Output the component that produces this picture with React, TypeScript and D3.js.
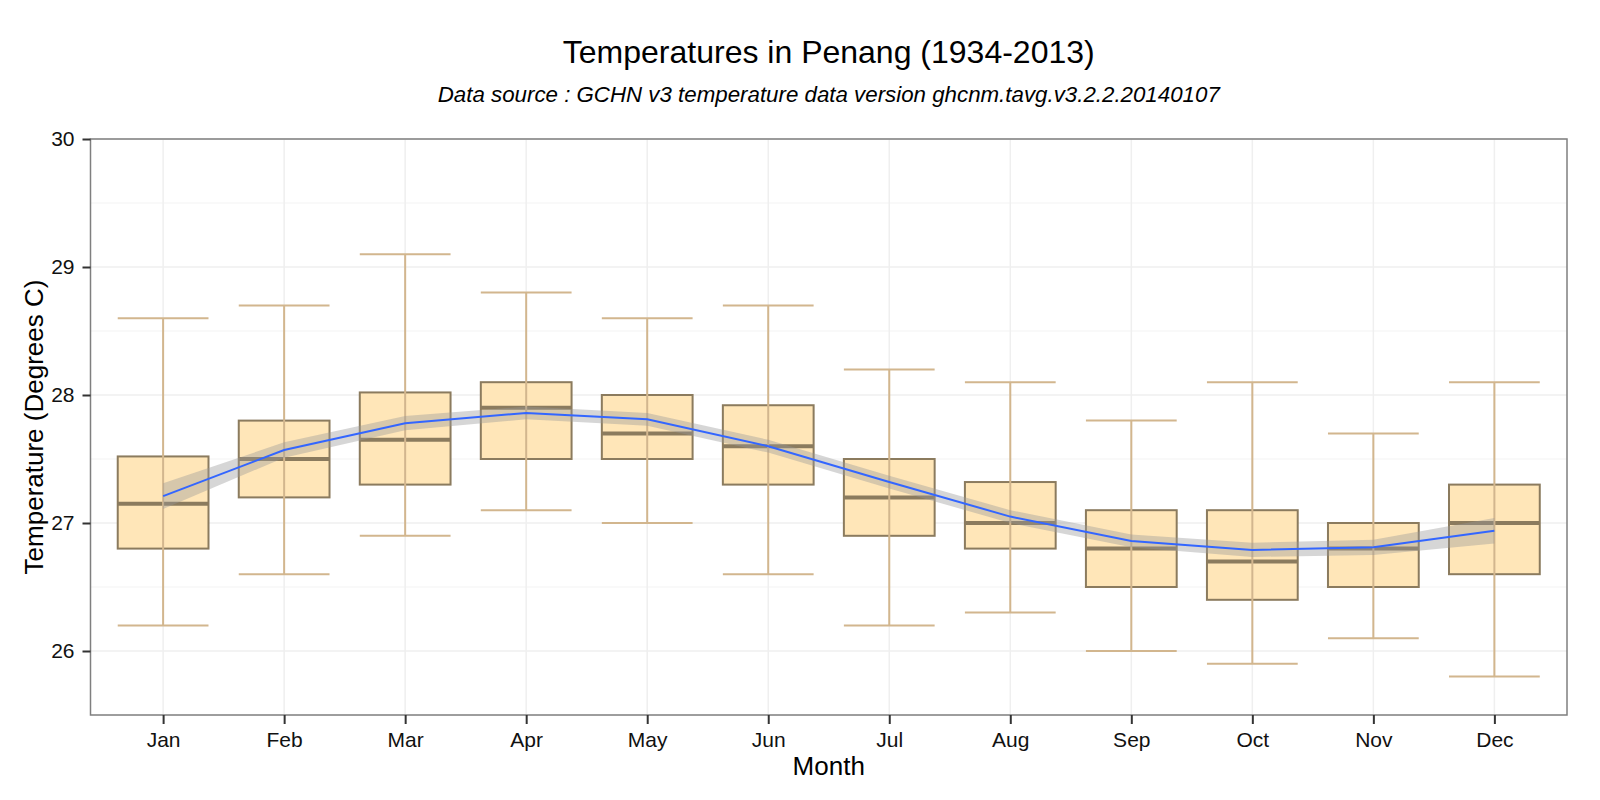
import React, { useRef, useEffect } from "react";
import * as d3 from "d3";

const months = ["Jan", "Feb", "Mar", "Apr", "May", "Jun", "Jul", "Aug", "Sep", "Oct", "Nov", "Dec"];
const whiskerLow = [26.2, 26.6, 26.9, 27.1, 27.0, 26.6, 26.2, 26.3, 26.0, 25.9, 26.1, 25.8];
const whiskerHigh = [28.6, 28.7, 29.1, 28.8, 28.6, 28.7, 28.2, 28.1, 27.8, 28.1, 27.7, 28.1];
const q1 = [26.8, 27.2, 27.3, 27.5, 27.5, 27.3, 26.9, 26.8, 26.5, 26.4, 26.5, 26.6];
const median = [27.15, 27.5, 27.65, 27.9, 27.7, 27.6, 27.2, 27.0, 26.8, 26.7, 26.8, 27.0];
const q3 = [27.52, 27.8, 28.02, 28.1, 28.0, 27.92, 27.5, 27.32, 27.1, 27.1, 27.0, 27.3];
// loess fit and half-width of its confidence band
const smoothFit = [27.21, 27.57, 27.78, 27.86, 27.81, 27.6, 27.32, 27.05, 26.86, 26.79, 26.81, 26.94];
const smoothSe = [0.1, 0.06, 0.055, 0.05, 0.05, 0.05, 0.05, 0.05, 0.05, 0.055, 0.06, 0.1];
const yTicks = [26, 27, 28, 29, 30];

const FONT = "'Liberation Sans', Arial, sans-serif";

const BoxChart = () => {
    const ref = useRef<SVGSVGElement | null>(null);

    useEffect(() => {
        const width = 1600;
        const height = 800;
        const margin = { top: 139, right: 33, bottom: 85, left: 90.5 };
        const chartWidth = width - margin.left - margin.right;
        const chartHeight = height - margin.top - margin.bottom;

        const svg = d3.select(ref.current);
        svg.selectAll("*").remove();

        const rows = months.map((m, i) => ({
            month: m,
            lo: whiskerLow[i],
            hi: whiskerHigh[i],
            q1: q1[i],
            med: median[i],
            q3: q3[i],
            fit: smoothFit[i],
            se: smoothSe[i],
        }));

        // discrete scale with ggplot-like 0.6 expansion on each side
        const unit = chartWidth / (months.length - 1 + 1.2);
        const x = d3
            .scalePoint()
            .domain(months)
            .range([0.6 * unit, chartWidth - 0.6 * unit]);
        const y = d3.scaleLinear().domain([25.5, 30]).range([chartHeight, 0]);
        const boxW = unit * 0.75;

        const g = svg
            .append("g")
            .attr("transform", `translate(${margin.left},${margin.top})`);

        // grid
        const minor = d3.range(25.5, 30, 1);
        g.selectAll(".minor")
            .data(minor)
            .join("line")
            .attr("x1", 0)
            .attr("x2", chartWidth)
            .attr("y1", (d) => y(d))
            .attr("y2", (d) => y(d))
            .attr("stroke", "#f7f7f7")
            .attr("stroke-width", 1.5);
        g.selectAll(".major")
            .data(yTicks)
            .join("line")
            .attr("x1", 0)
            .attr("x2", chartWidth)
            .attr("y1", (d) => y(d))
            .attr("y2", (d) => y(d))
            .attr("stroke", "#efefef")
            .attr("stroke-width", 1.5);
        g.selectAll(".vgrid")
            .data(months)
            .join("line")
            .attr("x1", (d) => x(d)!)
            .attr("x2", (d) => x(d)!)
            .attr("y1", 0)
            .attr("y2", chartHeight)
            .attr("stroke", "#efefef")
            .attr("stroke-width", 1.5);

        // boxes
        g.selectAll(".box")
            .data(rows)
            .join("rect")
            .attr("x", (d) => x(d.month)! - boxW / 2)
            .attr("y", (d) => y(d.q3))
            .attr("width", boxW)
            .attr("height", (d) => y(d.q1) - y(d.q3))
            .attr("fill", "#ffe6b8")
            .attr("stroke", "#8b7b5e")
            .attr("stroke-width", 2);
        g.selectAll(".med")
            .data(rows)
            .join("line")
            .attr("x1", (d) => x(d.month)! - boxW / 2)
            .attr("x2", (d) => x(d.month)! + boxW / 2)
            .attr("y1", (d) => y(d.med))
            .attr("y2", (d) => y(d.med))
            .attr("stroke", "#8b7b5e")
            .attr("stroke-width", 4);

        // error bars
        const eb = g.selectAll(".eb").data(rows).join("g");
        eb.append("line")
            .attr("x1", (d) => x(d.month)!)
            .attr("x2", (d) => x(d.month)!)
            .attr("y1", (d) => y(d.lo))
            .attr("y2", (d) => y(d.hi));
        eb.append("line")
            .attr("x1", (d) => x(d.month)! - boxW / 2)
            .attr("x2", (d) => x(d.month)! + boxW / 2)
            .attr("y1", (d) => y(d.hi))
            .attr("y2", (d) => y(d.hi));
        eb.append("line")
            .attr("x1", (d) => x(d.month)! - boxW / 2)
            .attr("x2", (d) => x(d.month)! + boxW / 2)
            .attr("y1", (d) => y(d.lo))
            .attr("y2", (d) => y(d.lo));
        eb.selectAll("line").attr("stroke", "#d2b68e").attr("stroke-width", 2);

        // smooth ribbon + line
        const area = d3
            .area<(typeof rows)[number]>()
            .x((d) => x(d.month)!)
            .y0((d) => y(d.fit - d.se))
            .y1((d) => y(d.fit + d.se));
        g.append("path")
            .datum(rows)
            .attr("d", area)
            .attr("fill", "#999999")
            .attr("fill-opacity", 0.4);
        const line = d3
            .line<(typeof rows)[number]>()
            .x((d) => x(d.month)!)
            .y((d) => y(d.fit));
        g.append("path")
            .datum(rows)
            .attr("d", line)
            .attr("fill", "none")
            .attr("stroke", "#3366ff")
            .attr("stroke-width", 2);

        // panel border
        g.append("rect")
            .attr("width", chartWidth)
            .attr("height", chartHeight)
            .attr("fill", "none")
            .attr("stroke", "#7f7f7f")
            .attr("stroke-width", 1.5);

        // axes
        const yAxis = g.append("g").call(
            d3.axisLeft(y).tickValues(yTicks).tickSize(8).tickPadding(8).tickFormat(d3.format("d"))
        );
        const xAxis = g
            .append("g")
            .attr("transform", `translate(0,${chartHeight})`)
            .call(d3.axisBottom(x).tickSize(9).tickPadding(8));
        [xAxis, yAxis].forEach((a) => {
            a.select(".domain").remove();
            a.selectAll(".tick line").attr("stroke", "#333333").attr("stroke-width", 2);
            a.selectAll(".tick text")
                .attr("fill", "#111111")
                .style("font-family", FONT)
                .style("font-size", "21px");
        });

        // titles
        svg.append("text")
            .attr("x", margin.left + chartWidth / 2)
            .attr("y", 63)
            .attr("text-anchor", "middle")
            .style("font-family", FONT)
            .style("font-size", "32px")
            .text("Temperatures in Penang (1934-2013)");
        svg.append("text")
            .attr("x", margin.left + chartWidth / 2)
            .attr("y", 102)
            .attr("text-anchor", "middle")
            .style("font-family", FONT)
            .style("font-size", "22.3px")
            .style("font-style", "italic")
            .text("Data source : GCHN v3 temperature data version ghcnm.tavg.v3.2.2.20140107");
        svg.append("text")
            .attr("x", margin.left + chartWidth / 2)
            .attr("y", 775)
            .attr("text-anchor", "middle")
            .style("font-family", FONT)
            .style("font-size", "26px")
            .text("Month");
        svg.append("text")
            .attr("transform", `translate(43,${margin.top + chartHeight / 2}) rotate(-90)`)
            .attr("text-anchor", "middle")
            .style("font-family", FONT)
            .style("font-size", "26px")
            .text("Temperature (Degrees C)");
    }, []);

    return (
        <div style={{ position: "fixed", left: 0, top: 0, width: 1600, height: 800, background: "#fff" }}>
            <svg ref={ref} width={1600} height={800} viewBox="0 0 1600 800" />
        </div>
    );
};

export default function App() {
    return <BoxChart />;
}
